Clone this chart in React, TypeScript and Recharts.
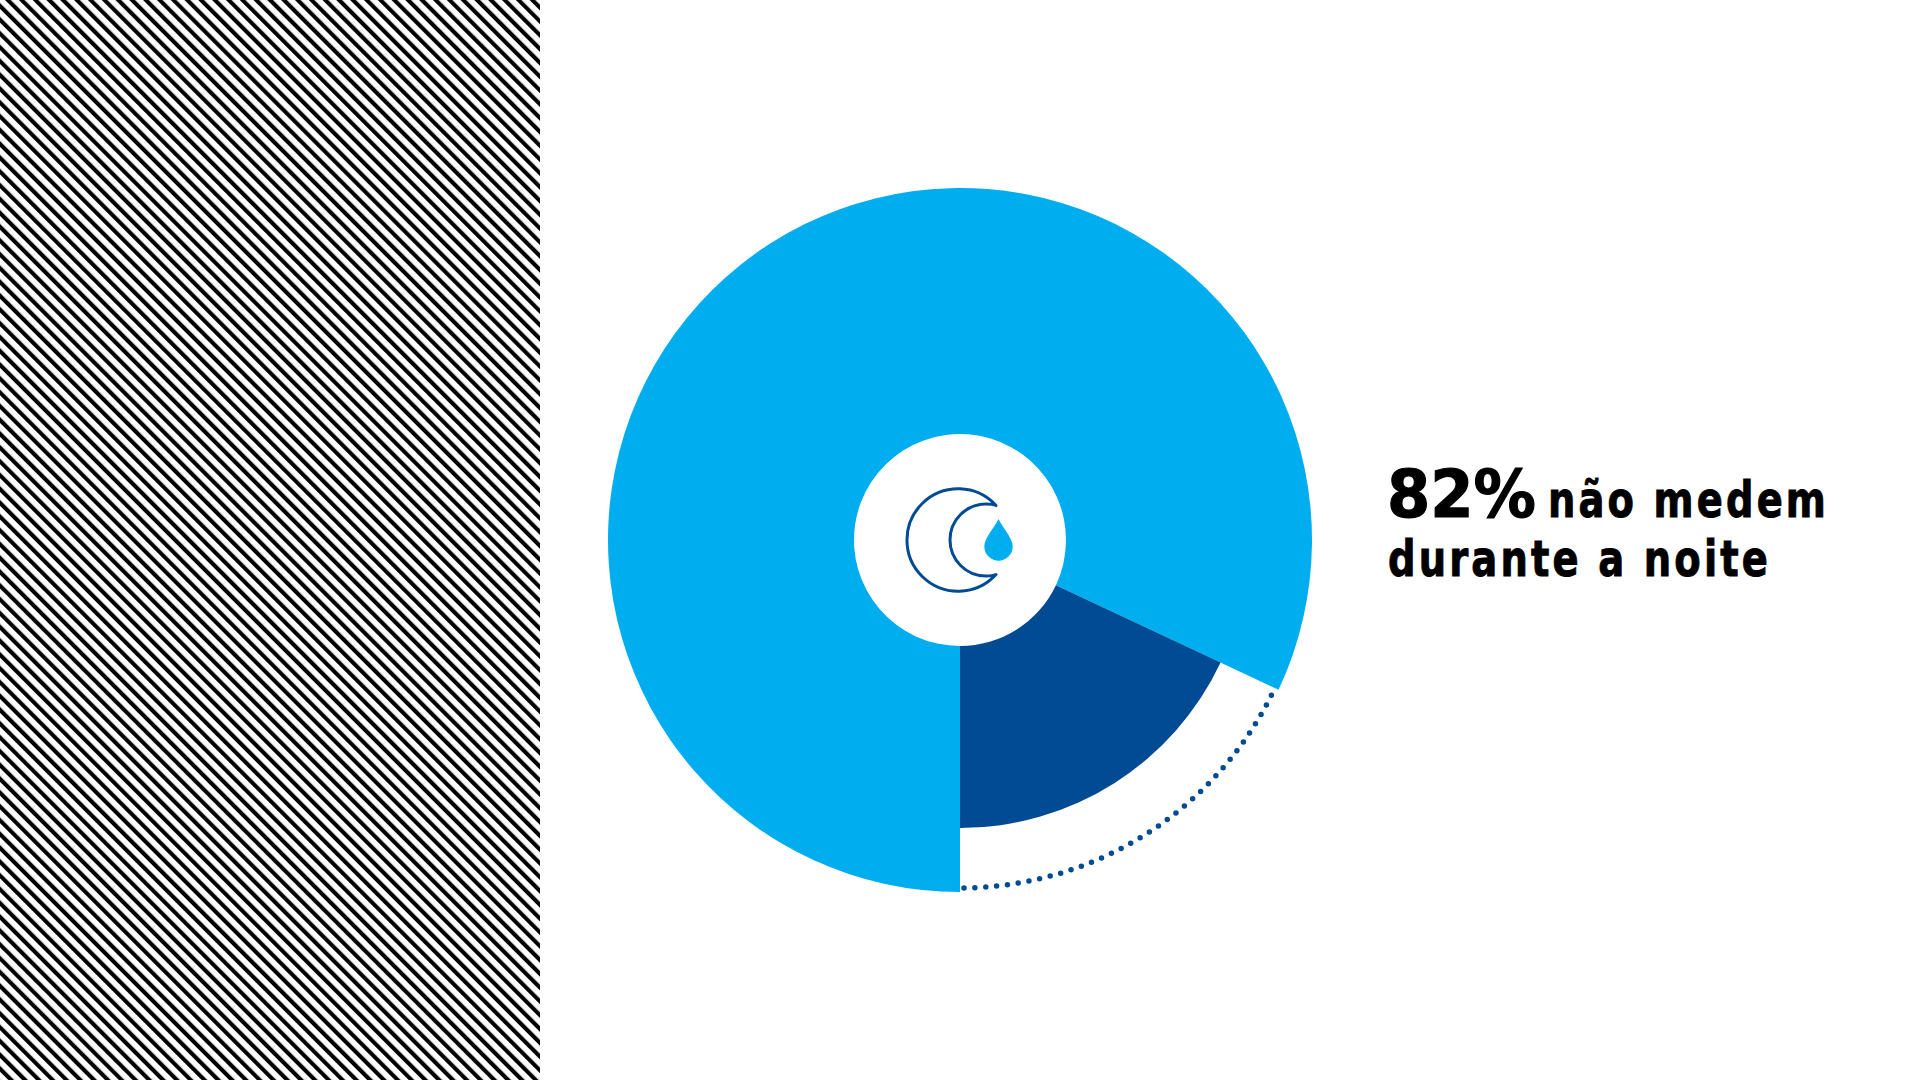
import React from "react";
import { PieChart, Pie, Cell } from "recharts";

// share of people who do / don't measure during the night
const categories = ["não medem", "medem"];
const shares = [82, 18];
const headlineValue = "82%";
const headlineLines = ["não medem", "durante a noite"];

const pieData = categories.map((name, i) => ({ name, value: shares[i] }));

const LIGHT = "#00AEEF";
const DARK = "#004B93";
const START = -25.2;
const END = 334.8;
const CX = 960;
const CY = 540;
const FONT = "'DejaVu Sans', sans-serif";

function DottedArc(props: any) {
  const { cx, cy, outerRadius, startAngle, endAngle, index } = props;
  if (index !== 1) return null;
  const rad = Math.PI / 180;
  // dots stop a little short of both ends of the slice
  const a1 = startAngle + 0.66;
  const a2 = endAngle - 1.2;
  const x1 = cx + outerRadius * Math.cos(-a1 * rad);
  const y1 = cy + outerRadius * Math.sin(-a1 * rad);
  const x2 = cx + outerRadius * Math.cos(-a2 * rad);
  const y2 = cy + outerRadius * Math.sin(-a2 * rad);
  return (
    <path
      d={`M ${x1} ${y1} A ${outerRadius} ${outerRadius} 0 0 0 ${x2} ${y2}`}
      fill="none"
      stroke={DARK}
      strokeWidth={5.5}
      strokeLinecap="round"
      strokeDasharray="0 10.9"
    />
  );
}

function MoonIcon() {
  return (
    <g>
      <path
        d="M 996 505.5 A 51.2 51.2 0 1 0 996 574.5 C 993 576 989 576 986 576 A 36 36 0 0 1 986 504 C 989 504 993 504 996 505.5 Z"
        fill="none"
        stroke={DARK}
        strokeWidth={3}
        strokeLinejoin="round"
      />
      <path
        d="M 998.5 519 C 1003 528 1012.7 538 1012.7 546.5 A 14.2 14.2 0 0 1 984.3 546.5 C 984.3 538 994 528 998.5 519 Z"
        fill={LIGHT}
      />
    </g>
  );
}

export default function App() {
  return (
    <div style={{ position: "absolute", left: 0, top: 0, width: 1920, height: 1080, background: "#fff", overflow: "hidden" }}>
      <svg width={540} height={1080} style={{ position: "absolute", left: 0, top: 0 }}>
        <defs>
          <pattern
            id="hatch"
            patternUnits="userSpaceOnUse"
            width={9.76}
            height={20}
            patternTransform="translate(5 0) rotate(-45)"
          >
            <rect x={0} y={0} width={4.1} height={20} fill="#000" />
          </pattern>
        </defs>
        <rect width={540} height={1080} fill="url(#hatch)" />
      </svg>
      <PieChart
        width={1920}
        height={1080}
        margin={{ top: 0, right: 0, bottom: 0, left: 0 }}
        style={{ position: "absolute", left: 0, top: 0 }}
      >
        <Pie
          data={pieData}
          dataKey="value"
          cx={CX}
          cy={CY}
          startAngle={START}
          endAngle={END}
          innerRadius={106}
          outerRadius={352}
          stroke="none"
          isAnimationActive={false}
        >
          <Cell fill={LIGHT} />
          <Cell fill="none" />
        </Pie>
        <Pie
          data={pieData}
          dataKey="value"
          cx={CX}
          cy={CY}
          startAngle={START}
          endAngle={END}
          innerRadius={106}
          outerRadius={288}
          stroke="none"
          isAnimationActive={false}
        >
          <Cell fill="none" />
          <Cell fill={DARK} />
        </Pie>
        <Pie
          data={pieData}
          dataKey="value"
          cx={CX}
          cy={CY}
          startAngle={START}
          endAngle={END}
          innerRadius={348}
          outerRadius={348}
          stroke="none"
          shape={DottedArc}
          isAnimationActive={false}
        />
        <MoonIcon />
        <text x={1387} y={517} fontFamily={FONT} fontWeight={700} fontSize={65} textLength={149} lengthAdjust="spacingAndGlyphs" fill="#000" stroke="#000" strokeWidth={1.2}>
          {headlineValue}
        </text>
        <text x={1548} y={517} fontFamily={FONT} fontWeight={700} fontSize={49} letterSpacing={4} textLength={281} lengthAdjust="spacingAndGlyphs" fill="#000" stroke="#000" strokeWidth={1}>
          {headlineLines[0]}
        </text>
        <text x={1388} y={576} fontFamily={FONT} fontWeight={700} fontSize={49} letterSpacing={4} textLength={383} lengthAdjust="spacingAndGlyphs" fill="#000" stroke="#000" strokeWidth={1}>
          {headlineLines[1]}
        </text>
      </PieChart>
    </div>
  );
}
